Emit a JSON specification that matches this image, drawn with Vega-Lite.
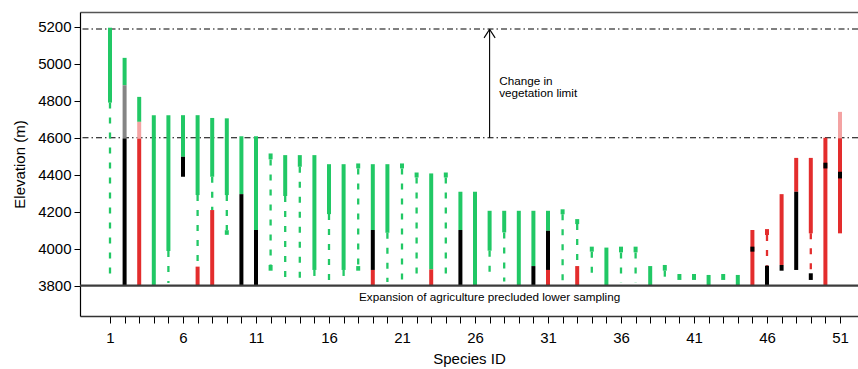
{
  "$schema": "https://vega.github.io/schema/vega-lite/v6.json",
  "autosize": {"type": "none"},
  "width": 778,
  "height": 304,
  "padding": {"left": 80, "top": 12, "right": 0, "bottom": 53},
  "background": "white",
  "config": {
    "view": {"stroke": null},
    "axis": {
      "labelFont": "Liberation Sans",
      "titleFont": "Liberation Sans",
      "labelFontSize": 15,
      "titleFontSize": 15,
      "titleFontWeight": "normal",
      "labelColor": "black",
      "titleColor": "black",
      "tickColor": "black",
      "domainColor": "black",
      "grid": false
    },
    "text": {"font": "Liberation Sans", "color": "black"}
  },
  "resolve": {"axis": {"x": "independent"}},
  "datasets": {
    "seg": [
      {"id": 1, "lo": 3830, "hi": 4790, "c": "g", "t": "d"},
      {"id": 1, "lo": 4790, "hi": 5195, "c": "g", "t": "s"},
      {"id": 2, "lo": 4884, "hi": 5032, "c": "g", "t": "s"},
      {"id": 2, "lo": 4596, "hi": 4884, "c": "gy", "t": "s"},
      {"id": 2, "lo": 3800, "hi": 4596, "c": "k", "t": "s"},
      {"id": 3, "lo": 4686, "hi": 4821, "c": "g", "t": "s"},
      {"id": 3, "lo": 4594, "hi": 4686, "c": "p", "t": "s"},
      {"id": 3, "lo": 3800, "hi": 4594, "c": "r", "t": "s"},
      {"id": 4, "lo": 3800, "hi": 4722, "c": "g", "t": "s"},
      {"id": 5, "lo": 3987, "hi": 4722, "c": "g", "t": "s"},
      {"id": 5, "lo": 3815, "hi": 3987, "c": "g", "t": "d"},
      {"id": 6, "lo": 4497, "hi": 4722, "c": "g", "t": "s"},
      {"id": 6, "lo": 4389, "hi": 4497, "c": "k", "t": "s"},
      {"id": 7, "lo": 4290, "hi": 4722, "c": "g", "t": "s"},
      {"id": 7, "lo": 3903, "hi": 4290, "c": "g", "t": "d"},
      {"id": 7, "lo": 3800, "hi": 3903, "c": "r", "t": "s"},
      {"id": 8, "lo": 4389, "hi": 4707, "c": "g", "t": "s"},
      {"id": 8, "lo": 4209, "hi": 4389, "c": "g", "t": "d"},
      {"id": 8, "lo": 3800, "hi": 4209, "c": "r", "t": "s"},
      {"id": 9, "lo": 4290, "hi": 4705, "c": "g", "t": "s"},
      {"id": 9, "lo": 4100, "hi": 4290, "c": "g", "t": "d"},
      {"id": 9, "lo": 4075, "hi": 4100, "c": "g", "t": "s"},
      {"id": 10, "lo": 4295, "hi": 4608, "c": "g", "t": "s"},
      {"id": 10, "lo": 3800, "hi": 4295, "c": "k", "t": "s"},
      {"id": 11, "lo": 4101, "hi": 4608, "c": "g", "t": "s"},
      {"id": 11, "lo": 3800, "hi": 4101, "c": "k", "t": "s"},
      {"id": 12, "lo": 4483, "hi": 4515, "c": "g", "t": "s"},
      {"id": 12, "lo": 3912, "hi": 4483, "c": "g", "t": "d"},
      {"id": 12, "lo": 3881, "hi": 3912, "c": "g", "t": "s"},
      {"id": 13, "lo": 4285, "hi": 4506, "c": "g", "t": "s"},
      {"id": 13, "lo": 3805, "hi": 4285, "c": "g", "t": "d"},
      {"id": 14, "lo": 4443, "hi": 4506, "c": "g", "t": "s"},
      {"id": 14, "lo": 3822, "hi": 4443, "c": "g", "t": "d"},
      {"id": 15, "lo": 3885, "hi": 4506, "c": "g", "t": "s"},
      {"id": 15, "lo": 3810, "hi": 3885, "c": "g", "t": "d"},
      {"id": 16, "lo": 4187, "hi": 4457, "c": "g", "t": "s"},
      {"id": 16, "lo": 3815, "hi": 4187, "c": "g", "t": "d"},
      {"id": 17, "lo": 3885, "hi": 4457, "c": "g", "t": "s"},
      {"id": 17, "lo": 3815, "hi": 3885, "c": "g", "t": "d"},
      {"id": 18, "lo": 4434, "hi": 4461, "c": "g", "t": "s"},
      {"id": 18, "lo": 3906, "hi": 4434, "c": "g", "t": "d"},
      {"id": 18, "lo": 3881, "hi": 3906, "c": "g", "t": "s"},
      {"id": 19, "lo": 4101, "hi": 4457, "c": "g", "t": "s"},
      {"id": 19, "lo": 3885, "hi": 4101, "c": "k", "t": "s"},
      {"id": 19, "lo": 3800, "hi": 3885, "c": "r", "t": "s"},
      {"id": 20, "lo": 4086, "hi": 4457, "c": "g", "t": "s"},
      {"id": 20, "lo": 3820, "hi": 4086, "c": "g", "t": "d"},
      {"id": 21, "lo": 4434, "hi": 4461, "c": "g", "t": "s"},
      {"id": 21, "lo": 3822, "hi": 4434, "c": "g", "t": "d"},
      {"id": 22, "lo": 4385, "hi": 4412, "c": "g", "t": "s"},
      {"id": 22, "lo": 3822, "hi": 4385, "c": "g", "t": "d"},
      {"id": 23, "lo": 3888, "hi": 4407, "c": "g", "t": "s"},
      {"id": 23, "lo": 3800, "hi": 3888, "c": "r", "t": "s"},
      {"id": 24, "lo": 4385, "hi": 4412, "c": "g", "t": "s"},
      {"id": 24, "lo": 3836, "hi": 4385, "c": "g", "t": "d"},
      {"id": 25, "lo": 4101, "hi": 4308, "c": "g", "t": "s"},
      {"id": 25, "lo": 3800, "hi": 4101, "c": "k", "t": "s"},
      {"id": 26, "lo": 3800, "hi": 4308, "c": "g", "t": "s"},
      {"id": 27, "lo": 3989, "hi": 4205, "c": "g", "t": "s"},
      {"id": 27, "lo": 3830, "hi": 3989, "c": "g", "t": "d"},
      {"id": 28, "lo": 4088, "hi": 4205, "c": "g", "t": "s"},
      {"id": 28, "lo": 3822, "hi": 4088, "c": "g", "t": "d"},
      {"id": 29, "lo": 3800, "hi": 4205, "c": "g", "t": "s"},
      {"id": 30, "lo": 3906, "hi": 4205, "c": "g", "t": "s"},
      {"id": 30, "lo": 3800, "hi": 3906, "c": "k", "t": "s"},
      {"id": 31, "lo": 4097, "hi": 4205, "c": "g", "t": "s"},
      {"id": 31, "lo": 3885, "hi": 4097, "c": "k", "t": "s"},
      {"id": 31, "lo": 3800, "hi": 3885, "c": "r", "t": "s"},
      {"id": 32, "lo": 4186, "hi": 4213, "c": "g", "t": "s"},
      {"id": 32, "lo": 3830, "hi": 4186, "c": "g", "t": "d"},
      {"id": 33, "lo": 4133, "hi": 4160, "c": "g", "t": "s"},
      {"id": 33, "lo": 3906, "hi": 4133, "c": "g", "t": "d"},
      {"id": 33, "lo": 3800, "hi": 3906, "c": "r", "t": "s"},
      {"id": 34, "lo": 3984, "hi": 4011, "c": "g", "t": "s"},
      {"id": 34, "lo": 3822, "hi": 3984, "c": "g", "t": "d"},
      {"id": 35, "lo": 3800, "hi": 4006, "c": "g", "t": "s"},
      {"id": 36, "lo": 3980, "hi": 4011, "c": "g", "t": "s"},
      {"id": 36, "lo": 3816, "hi": 3980, "c": "g", "t": "d"},
      {"id": 37, "lo": 3980, "hi": 4011, "c": "g", "t": "s"},
      {"id": 37, "lo": 3816, "hi": 3980, "c": "g", "t": "d"},
      {"id": 38, "lo": 3800, "hi": 3906, "c": "g", "t": "s"},
      {"id": 39, "lo": 3881, "hi": 3912, "c": "g", "t": "s"},
      {"id": 39, "lo": 3816, "hi": 3881, "c": "g", "t": "d"},
      {"id": 40, "lo": 3831, "hi": 3863, "c": "g", "t": "s"},
      {"id": 41, "lo": 3831, "hi": 3863, "c": "g", "t": "s"},
      {"id": 42, "lo": 3800, "hi": 3858, "c": "g", "t": "s"},
      {"id": 43, "lo": 3831, "hi": 3863, "c": "g", "t": "s"},
      {"id": 44, "lo": 3800, "hi": 3858, "c": "g", "t": "s"},
      {"id": 45, "lo": 3800, "hi": 4101, "c": "r", "t": "s"},
      {"id": 45, "lo": 3984, "hi": 4011, "c": "k", "t": "s"},
      {"id": 46, "lo": 4074, "hi": 4106, "c": "r", "t": "s"},
      {"id": 46, "lo": 3908, "hi": 4074, "c": "r", "t": "d"},
      {"id": 46, "lo": 3800, "hi": 3908, "c": "k", "t": "s"},
      {"id": 47, "lo": 3912, "hi": 4295, "c": "r", "t": "s"},
      {"id": 47, "lo": 3881, "hi": 3912, "c": "k", "t": "s"},
      {"id": 48, "lo": 4308, "hi": 4491, "c": "r", "t": "s"},
      {"id": 48, "lo": 3885, "hi": 4308, "c": "k", "t": "s"},
      {"id": 49, "lo": 4083, "hi": 4491, "c": "r", "t": "s"},
      {"id": 49, "lo": 3867, "hi": 4083, "c": "r", "t": "d"},
      {"id": 49, "lo": 3831, "hi": 3867, "c": "k", "t": "s"},
      {"id": 50, "lo": 3800, "hi": 4600, "c": "r", "t": "s"},
      {"id": 50, "lo": 4434, "hi": 4465, "c": "k", "t": "s"},
      {"id": 51, "lo": 4597, "hi": 4740, "c": "p", "t": "s"},
      {"id": 51, "lo": 4083, "hi": 4597, "c": "r", "t": "s"},
      {"id": 51, "lo": 4380, "hi": 4416, "c": "k", "t": "s"}
    ],
    "limits": [{"elev": 4600}, {"elev": 5188}],
    "base": [{"elev": 3800}],
    "arrow": [
      {"x": 27, "x2": 27, "y": 4600, "y2": 5186},
      {"x": 27, "x2": 26.62, "y": 5186, "y2": 5140},
      {"x": 27, "x2": 27.38, "y": 5186, "y2": 5140}
    ],
    "notes": [
      {"x": 27, "y": 3715, "label": "Expansion of agriculture precluded lower sampling", "pos": "center"},
      {"x": 27.66, "y": 4883, "label": "Change in", "pos": "left"},
      {"x": 27.66, "y": 4822, "label": "vegetation limit", "pos": "left"}
    ]
  },
  "layer": [
    {
      "data": {"name": "limits"},
      "mark": {"type": "rule", "color": "black", "strokeWidth": 1.2, "strokeDash": [6, 3, 1.5, 3]},
      "encoding": {
        "y": {
          "field": "elev", "type": "quantitative", "title": "Elevation (m)",
          "scale": {"domain": [3636, 5280], "nice": false, "zero": false},
          "axis": {
            "values": [3800, 4000, 4200, 4400, 4600, 4800, 5000, 5200],
            "format": "d",
            "tickSize": 6, "labelPadding": 3, "titlePadding": 10,
            "domainColor": "black", "domainWidth": 1.2
          }
        }
      }
    },
    {
      "data": {"name": "seg"},
      "transform": [{"filter": "datum.t == 'd'"}],
      "mark": {"type": "rule", "strokeWidth": 2.3, "strokeDash": [6, 9], "strokeCap": "butt"},
      "encoding": {
        "x": {"field": "id", "type": "quantitative", "scale": {"domain": [-1.055, 52.233], "nice": false, "zero": false}, "axis": null},
        "y": {"field": "hi", "type": "quantitative", "title": "Elevation (m)", "scale": {"domain": [3636, 5280], "nice": false, "zero": false}},
        "y2": {"field": "lo"},
        "color": {"field": "c", "type": "nominal", "legend": null,
          "scale": {"domain": ["g", "r", "k", "gy", "p"], "range": ["#21C865", "#E32D2D", "#000000", "#858585", "#F4A3A3"]}}
      }
    },
    {
      "data": {"name": "seg"},
      "transform": [{"filter": "datum.t == 's'"}],
      "mark": {"type": "rule", "strokeWidth": 4, "strokeCap": "butt"},
      "encoding": {
        "x": {
          "field": "id", "type": "quantitative", "title": "Species ID",
          "scale": {"domain": [-1.055, 52.233], "nice": false, "zero": false},
          "axis": {
            "values": [1,2,3,4,5,6,7,8,9,10,11,12,13,14,15,16,17,18,19,20,21,22,23,24,25,26,27,28,29,30,31,32,33,34,35,36,37,38,39,40,41,42,43,44,45,46,47,48,49,50,51],
            "labelExpr": "(datum.value - 1) % 5 == 0 ? datum.label : ''",
            "tickSize": 7, "labelPadding": 7, "titlePadding": 6,
            "labelOverlap": false, "labelFlush": false, "labelBound": false,
            "domainColor": "#333333", "domainWidth": 1.3
          }
        },
        "y": {"field": "hi", "type": "quantitative", "title": "Elevation (m)", "scale": {"domain": [3636, 5280], "nice": false, "zero": false}},
        "y2": {"field": "lo"},
        "color": {"field": "c", "type": "nominal", "legend": null,
          "scale": {"domain": ["g", "r", "k", "gy", "p"], "range": ["#21C865", "#E32D2D", "#000000", "#858585", "#F4A3A3"]}}
      }
    },
    {
      "data": {"name": "base"},
      "mark": {"type": "rule", "color": "#3c3c3c", "strokeWidth": 2.2},
      "encoding": {
        "y": {"field": "elev", "type": "quantitative", "title": "Elevation (m)", "scale": {"domain": [3636, 5280], "nice": false, "zero": false}}
      }
    },
    {
      "data": {"name": "arrow"},
      "mark": {"type": "rule", "color": "black", "strokeWidth": 1.1},
      "encoding": {
        "x": {
          "field": "x", "type": "quantitative",
          "scale": {"domain": [-1.055, 52.233], "nice": false, "zero": false},
          "axis": {"orient": "top", "labels": false, "ticks": false, "title": null, "domainColor": "#555555", "domainWidth": 1.5}
        },
        "x2": {"field": "x2"},
        "y": {"field": "y", "type": "quantitative", "title": "Elevation (m)", "scale": {"domain": [3636, 5280], "nice": false, "zero": false}},
        "y2": {"field": "y2"}
      }
    },
    {
      "data": {"name": "notes"},
      "transform": [{"filter": "datum.pos == 'center'"}],
      "mark": {"type": "text", "align": "center", "baseline": "alphabetic", "fontSize": 11.7, "font": "Liberation Sans", "color": "black"},
      "encoding": {
        "x": {"field": "x", "type": "quantitative", "scale": {"domain": [-1.055, 52.233], "nice": false, "zero": false}, "axis": null},
        "y": {"field": "y", "type": "quantitative", "title": "Elevation (m)", "scale": {"domain": [3636, 5280], "nice": false, "zero": false}},
        "text": {"field": "label"}
      }
    },
    {
      "data": {"name": "notes"},
      "transform": [{"filter": "datum.pos == 'left'"}],
      "mark": {"type": "text", "align": "left", "baseline": "alphabetic", "fontSize": 11.7, "font": "Liberation Sans", "color": "black"},
      "encoding": {
        "x": {"field": "x", "type": "quantitative", "scale": {"domain": [-1.055, 52.233], "nice": false, "zero": false}, "axis": null},
        "y": {"field": "y", "type": "quantitative", "title": "Elevation (m)", "scale": {"domain": [3636, 5280], "nice": false, "zero": false}},
        "text": {"field": "label"}
      }
    }
  ]
}
